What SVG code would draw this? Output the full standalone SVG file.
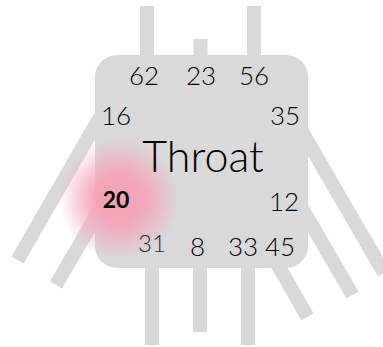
<svg xmlns="http://www.w3.org/2000/svg" width="383" height="347" viewBox="0 0 383 347">
  <defs>
    <radialGradient id="glow" cx="0.5" cy="0.5" r="0.5">
      <stop offset="0" stop-color="#f4a3b6" stop-opacity="1"/>
      <stop offset="0.4" stop-color="#f4a3b6" stop-opacity="0.95"/>
      <stop offset="0.7" stop-color="#f4a3b6" stop-opacity="0.5"/>
      <stop offset="1" stop-color="#f4a3b6" stop-opacity="0"/>
    </radialGradient>
    <style>
      .bar { stroke: #d9d9d9; stroke-width: 14; stroke-linecap: butt; fill: none; }
      .lbl { font-family: "Lato", "Liberation Sans", sans-serif; font-weight: 300; fill: #000; text-anchor: middle; }
      .num { font-size: 26px; }
    </style>
  </defs>
  <rect width="383" height="347" fill="#ffffff"/>
  <g id="connectors">
    <line class="bar" x1="147" y1="6" x2="147" y2="80"/>
    <line class="bar" x1="200.5" y1="39" x2="200.5" y2="80"/>
    <line class="bar" x1="254" y1="6" x2="254" y2="80"/>
    <line class="bar" x1="152" y1="240" x2="152" y2="345"/>
    <line class="bar" x1="200" y1="240" x2="200" y2="332"/>
    <line class="bar" x1="248" y1="240" x2="248" y2="345"/>
    <line class="bar" x1="107" y1="105" x2="17.5" y2="260"/>
    <line class="bar" x1="110" y1="192" x2="56" y2="285"/>
    <line class="bar" x1="300" y1="128" x2="384" y2="273"/>
    <line class="bar" x1="292" y1="191" x2="352.5" y2="295"/>
    <line class="bar" x1="267.5" y1="247" x2="307.5" y2="316.7"/>
  </g>
  <g id="throat">
    <rect x="95" y="55" width="213" height="213" rx="22" ry="22" fill="#d9d9d9"/>
    <circle cx="119" cy="199" r="60" fill="url(#glow)"/>
    <text class="lbl" x="203" y="172" font-size="43">Throat</text>
    <text class="lbl num" x="144" y="85">62</text>
    <text class="lbl num" x="201" y="85">23</text>
    <text class="lbl num" x="254" y="85">56</text>
    <text class="lbl num" x="116" y="125">16</text>
    <text class="lbl num" x="285" y="125">35</text>
    <text class="lbl" x="116" y="208" font-size="23" style="font-weight:bold">20</text>
    <text class="lbl" x="152" y="252" font-size="24" style="fill:#2a2a2a">31</text>
    <text class="lbl num" x="284" y="211">12</text>
    <text class="lbl num" x="197.5" y="256">8</text>
    <text class="lbl num" x="243" y="256">33</text>
    <text class="lbl num" x="280" y="256">45</text>
  </g>
</svg>
